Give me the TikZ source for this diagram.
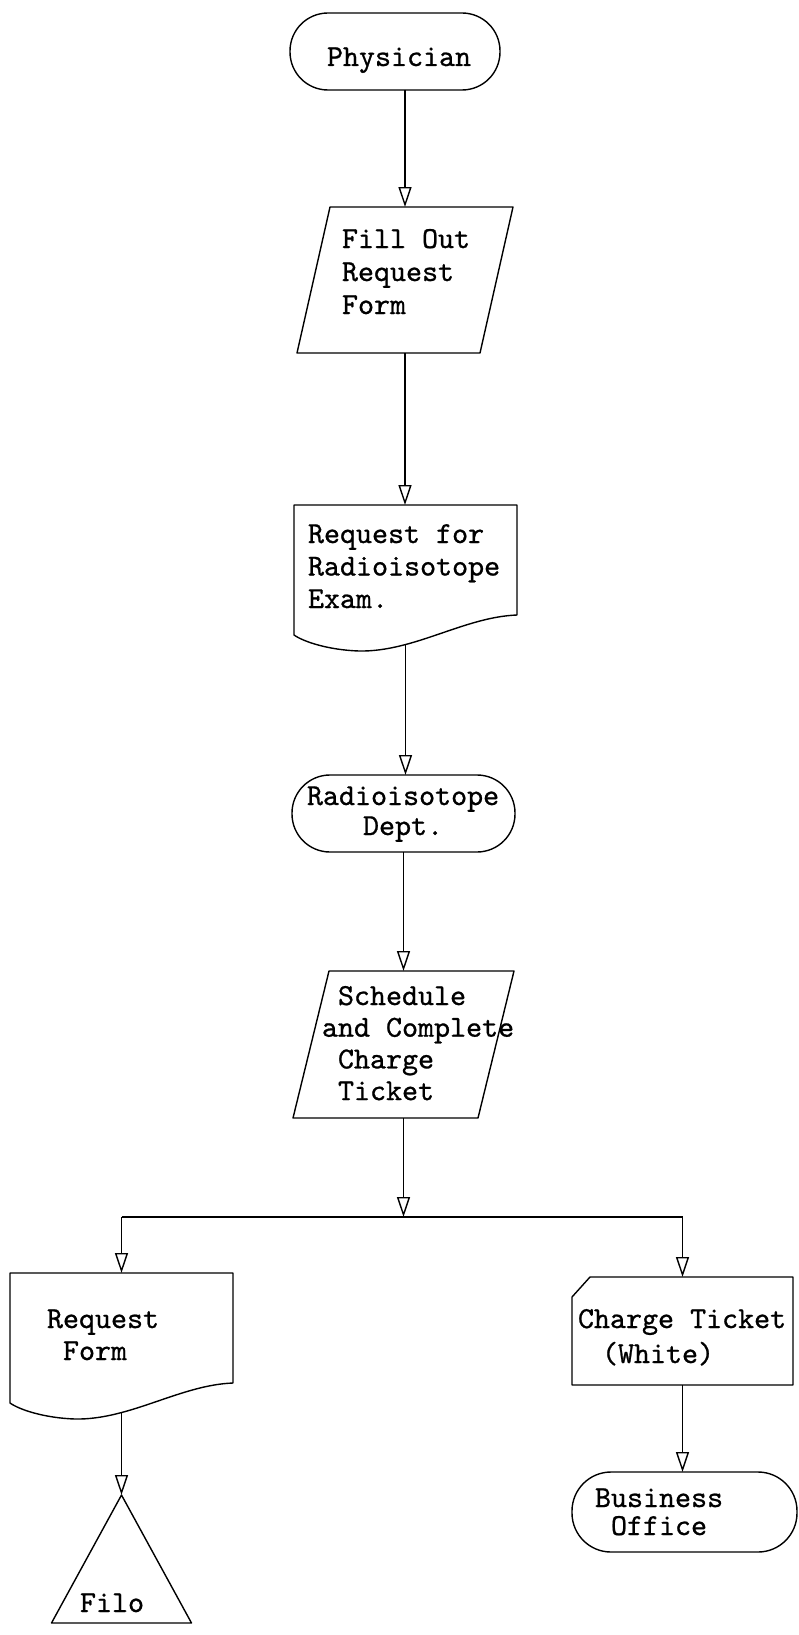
\documentclass[tikz,border=0pt]{standalone}
\usepackage{fontspec}
\newfontfamily\typewriter{lmmono10-regular.otf}[FakeBold=0.8]
\usetikzlibrary{arrows.meta}
% strut that fixes the height of the first text line
\newcommand\firstline{\rule{0pt}{24pt}}

\begin{document}
\begin{tikzpicture}[x=1pt, y=-1pt,
  ink/.style={draw=black, line width=1.4pt, line join=round},
  bbox/.style={inner sep=0pt, outer sep=0pt},
  terminal/.style={ink, bbox, rounded corners=#1},
  lead/.style={font=\typewriter\fontsize{30.5pt}{#1}\selectfont},
  label/.style={bbox, anchor=north west, align=left, lead=32pt},
  flow/.style={draw=black, line width=1.4pt,
    -{Triangle[open, length=20pt, width=13pt]}},
]
% page
\fill[white] (0,0) rectangle (799,1635);
\useasboundingbox (0,0) rectangle (799,1635);

% ---- shape frames ----
\node[terminal=38pt, minimum width=210pt, minimum height=77pt] (phys) at (395,51.5) {};
\node[bbox, minimum width=216pt, minimum height=146pt] (fill) at (405,280) {};
\node[bbox, minimum width=223pt, minimum height=145pt] (reqdoc) at (405.5,577.5) {};
\node[terminal=38pt, minimum width=223pt, minimum height=77pt] (radio) at (403.5,813.5) {};
\node[bbox, minimum width=221pt, minimum height=147pt] (sched) at (403.5,1044.5) {};
\node[bbox, minimum width=223pt, minimum height=145pt] (reqform) at (121.5,1345.5) {};
\node[bbox, minimum width=221pt, minimum height=108pt] (card) at (682.5,1331) {};
\node[terminal=39pt, minimum width=225pt, minimum height=80pt] (bus) at (684.5,1512) {};
\node[bbox, minimum width=140pt, minimum height=128pt] (file) at (121.5,1559) {};

% parallelograms (input/output)
\draw[ink] ([xshift=33pt]fill.north west) -- (fill.north east)
  -- ([xshift=-33pt]fill.south east) -- (fill.south west) -- cycle;
\draw[ink] ([xshift=36pt]sched.north west) -- (sched.north east)
  -- ([xshift=-36pt]sched.south east) -- (sched.south west) -- cycle;

% documents with wavy bottom edge
\foreach \d in {reqdoc, reqform}
  \draw[ink] (\d.north west) -- (\d.north east) -- ++(0,110)
    .. controls +(-53,2) and +(55,1) .. ++(-158,36)
    .. controls +(-30,-1) and +(10,7) .. ++(-65,-16) -- cycle;

% punched card with cut corner
\draw[ink] ([xshift=18pt]card.north west) -- (card.north east)
  -- (card.south east) -- (card.south west)
  -- ([yshift=-20pt]card.north west) -- cycle;

% file triangle
\draw[ink] (file.north) -- (file.south east) -- (file.south west) -- cycle;

% ---- texts ----
\node[label] (phys-t) at (327,42) {\firstline Physician};
\node[label, lead=33pt] (fill-t) at (342,224) {\firstline Fill Out\\Request\\Form};
\node[label, lead=32.5pt] (reqdoc-t) at (308,519) {\firstline Request for\\Radioisotope\\Exam.};
\node[label, lead=30pt, align=center] (radio-t) at (307,781) {\firstline Radioisotope\\Dept.};
\node[label, lead=31.7pt] (sched-t) at (322,981)
  {\firstline\hphantom{x}Schedule\\and Complete\\\hphantom{x}Charge\\\hphantom{x}Ticket};
\node[label] (reqform-t) at (47,1304) {\firstline Request\\\hphantom{x}Form};
\node[label, lead=35pt] (card-t) at (578,1304) {\firstline Charge Ticket\\\hspace*{24pt}(White)};
\node[label, lead=28pt] (bus-t) at (595,1483) {\firstline Business\\\hphantom{x}Office};
\node[label] (file-t) at (80,1588) {\firstline Filo};

% ---- connectors ----
\coordinate (split) at (403.5,1217);
\draw[flow] (phys.south -| fill.north) -- (fill.north);
\draw[flow] (fill.south) -- (fill.south |- reqdoc.north);
\draw[flow] ([yshift=5.5pt]reqdoc.south) -- (reqdoc.south |- radio.north);
\draw[flow] (radio.south) -- (radio.south |- sched.north);
\draw[flow] (sched.south) -- (split);
\draw[ink] (reqform.north |- split) -- (card.north |- split);
\draw[flow] (reqform.north |- split) -- (reqform.north);
\draw[flow] (card.north |- split) -- (card.north);
\draw[flow] (card.south) -- (card.south |- bus.north);
\draw[flow] ([yshift=5.5pt]reqform.south) -- (file.north);
\end{tikzpicture}
\end{document}
